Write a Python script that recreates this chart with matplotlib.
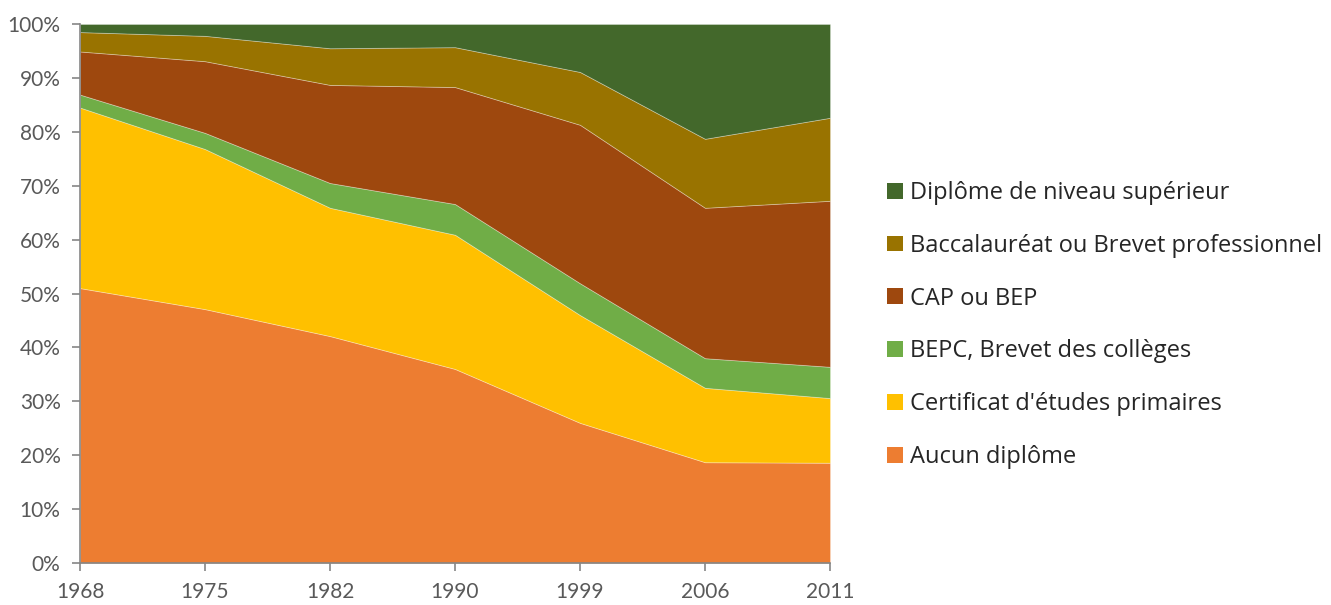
import matplotlib
matplotlib.use("Agg")
import matplotlib.pyplot as plt
from matplotlib.patches import Patch
import numpy as np

years = ["1968", "1975", "1982", "1990", "1999", "2006", "2011"]
aucun = [51.0, 47.1, 42.1, 36.0, 26.0, 18.7, 18.6]
certificat = [33.5, 29.7, 23.8, 24.9, 20.0, 13.8, 12.0]
bepc = [2.4, 3.0, 4.6, 5.7, 5.9, 5.5, 5.8]
cap = [8.0, 13.3, 18.2, 21.7, 29.4, 27.9, 30.8]
bac = [3.6, 4.7, 6.8, 7.4, 9.8, 12.8, 15.4]
superieur = [1.5, 2.2, 4.5, 4.3, 8.9, 21.3, 17.4]

labels = ["Aucun diplôme", "Certificat d'études primaires", "BEPC, Brevet des collèges",
          "CAP ou BEP", "Baccalauréat ou Brevet professionnel", "Diplôme de niveau supérieur"]
colors = ["#ED7D31", "#FFC000", "#70AD47", "#9E480E", "#997300", "#43682B"]

plt.rcParams['font.family'] = ['Lato', 'DejaVu Sans']

fig = plt.figure(figsize=(13.31, 6.05), dpi=100)
ax = fig.add_axes([80/1331, 42/605, 750/1331, 539/605])

x = np.arange(len(years))
series = [aucun, certificat, bepc, cap, bac, superieur]
ax.stackplot(x, *series, colors=colors, edgecolor=(1, 1, 1, 0.35), linewidth=0.6)

ax.set_xlim(0, len(years) - 1)
ax.set_ylim(0, 100)
ax.set_xticks(x)
ax.set_xticklabels(years)
ax.set_yticks(np.arange(0, 101, 10))
ax.set_yticklabels([f"{v}%" for v in range(0, 101, 10)])

for s in ["top", "right"]:
    ax.spines[s].set_visible(False)
for s in ["left", "bottom"]:
    ax.spines[s].set_color("#868686")
    ax.spines[s].set_linewidth(1.2)
ax.tick_params(axis="both", colors="#868686", labelcolor="#595959", labelsize=15, width=1.2)
ax.tick_params(axis="y", length=6, pad=8)
ax.tick_params(axis="x", length=6, pad=8)

handles = [Patch(facecolor=c, edgecolor="none") for c in colors][::-1]
fig.legend(handles, labels[::-1], loc="center left", bbox_to_anchor=(866/1331, 1 - 325/605),
           frameon=False, prop={"family": ["Open Sans", "DejaVu Sans"], "size": 17},
           labelspacing=1.22, handlelength=0.65, handleheight=0.65,
           handletextpad=0.3, labelcolor="#262626")

fig.savefig("out.png", dpi=100)
